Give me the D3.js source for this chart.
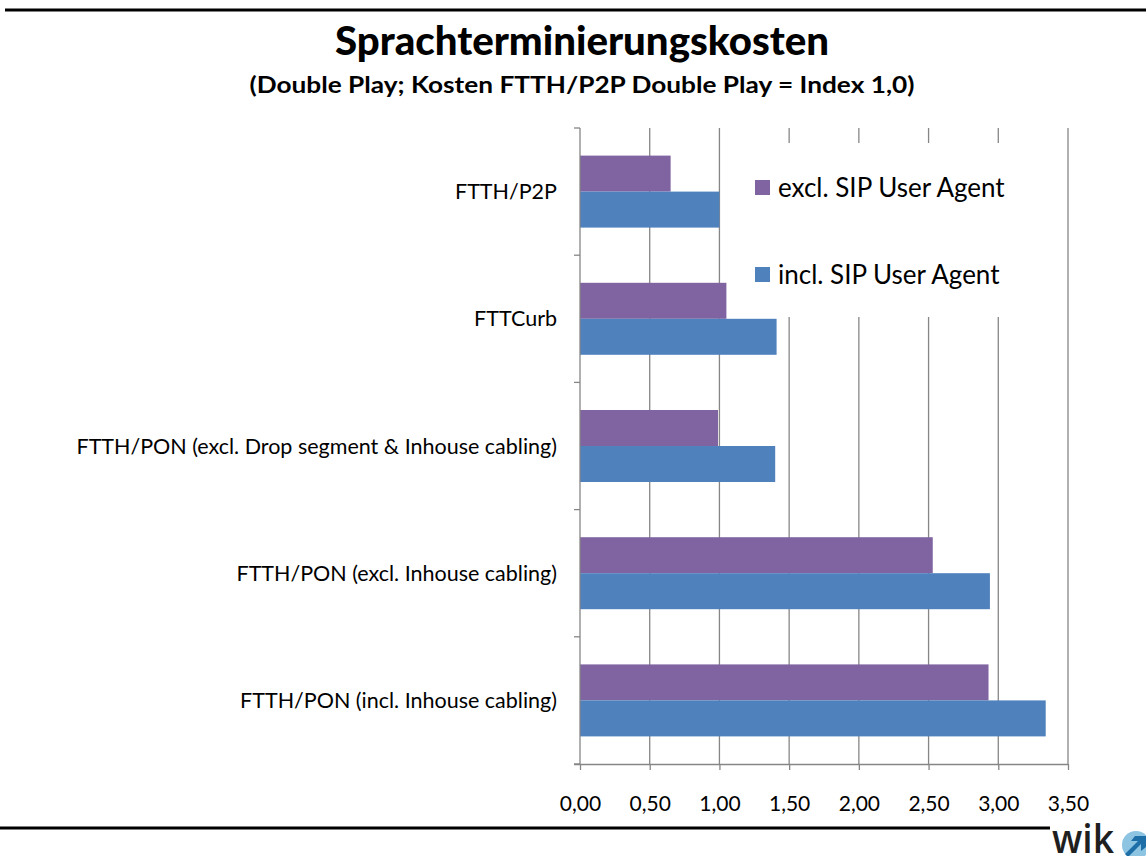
<!DOCTYPE html>
<html>
<head>
<meta charset="utf-8">
<script src="https://cdn.jsdelivr.net/npm/d3@7"></script>
<style>
  body { margin: 0; background: #fff; }
  svg { display: block; font-family: "Lato", "Open Sans", sans-serif; }
</style>
</head>
<body>
<div id="chart"></div>
<script>
// categories top to bottom
var categories = [
    "FTTH/P2P",
    "FTTCurb",
    "FTTH/PON (excl. Drop segment & Inhouse cabling)",
    "FTTH/PON (excl. Inhouse cabling)",
    "FTTH/PON (incl. Inhouse cabling)"
];
var seriesNames = ["excl. SIP User Agent", "incl. SIP User Agent"];
var seriesColors = ["#8064A2", "#4F81BD"];
var exclValues = [0.65, 1.05, 0.99, 2.53, 2.93];
var inclValues = [1.00, 1.41, 1.40, 2.94, 3.34];
var xTicks = [0, 0.5, 1, 1.5, 2, 2.5, 3, 3.5];

var width = 1146, height = 856;
var plot = {left: 580, right: 1068, top: 128, bottom: 764};

var svg = d3.select("#chart").append("svg")
    .attr("width", width)
    .attr("height", height);

// top and bottom rules
svg.append("line").attr("x1", 5).attr("x2", width).attr("y1", 10).attr("y2", 10)
    .attr("stroke", "#000").attr("stroke-width", 3);
svg.append("line").attr("x1", 0).attr("x2", 1050).attr("y1", 828).attr("y2", 828)
    .attr("stroke", "#000").attr("stroke-width", 3);

// titles
svg.append("text").attr("x", 582).attr("y", 55)
    .attr("text-anchor", "middle").attr("font-weight", 900).attr("font-size", 40)
    .attr("textLength", 494).attr("lengthAdjust", "spacingAndGlyphs")
    .text("Sprachterminierungskosten");
svg.append("text").attr("x", 582).attr("y", 93)
    .attr("text-anchor", "middle").attr("font-weight", "bold").attr("font-size", 23)
    .attr("textLength", 665).attr("lengthAdjust", "spacingAndGlyphs")
    .text("(Double Play; Kosten FTTH/P2P Double Play = Index 1,0)");

var x = d3.scaleLinear().domain([0, 3.5]).range([plot.left, plot.right]);
var y = d3.scaleBand().domain(categories).range([plot.top, plot.bottom])
    .paddingInner(0.434).paddingOuter(0.217);
var ySub = d3.scaleBand().domain(seriesNames).range([0, y.bandwidth()]);

var fmt = function(v){ return d3.format(".2f")(v).replace(".", ","); };

// gridlines
svg.append("g").selectAll("line").data(xTicks.slice(1)).enter().append("line")
    .attr("x1", d => x(d)).attr("x2", d => x(d))
    .attr("y1", plot.top).attr("y2", plot.bottom)
    .attr("stroke", "#868686").attr("stroke-width", 1.3);

// legend background hides the gridlines behind it
svg.append("rect").attr("x", 736).attr("y", 143).attr("width", 326).attr("height", 174)
    .attr("fill", "#fff");

// bars
var rows = categories.map(function(c, i){
    return [{cat: c, s: seriesNames[0], v: exclValues[i]},
            {cat: c, s: seriesNames[1], v: inclValues[i]}];
});
var g = svg.append("g");
g.selectAll("g").data(rows).enter().append("g")
    .attr("transform", d => "translate(0," + y(d[0].cat) + ")")
    .selectAll("rect").data(d => d).enter().append("rect")
    .attr("x", x(0))
    .attr("y", d => ySub(d.s))
    .attr("width", d => x(d.v) - x(0))
    .attr("height", ySub.bandwidth())
    .attr("fill", d => seriesColors[seriesNames.indexOf(d.s)]);

// x axis
var xAxis = d3.axisBottom(x).tickValues(xTicks).tickFormat(fmt).tickSize(6).tickPadding(26);
var gx = svg.append("g").attr("transform", "translate(0," + plot.bottom + ")").call(xAxis);
gx.select(".domain").attr("stroke", "#868686").attr("stroke-width", 1.3)
    .attr("d", "M" + (plot.left - 6) + ",0.5H" + plot.right);
gx.selectAll(".tick line").attr("stroke", "#868686").attr("stroke-width", 1.3);
gx.selectAll(".tick text").attr("font-size", 21).attr("fill", "#000")
    .attr("font-family", "Lato, 'Open Sans', sans-serif");

// y axis: tick marks at category boundaries
var yBounds = d3.range(categories.length + 1).map(i => plot.top + i * y.step());
svg.append("line").attr("x1", plot.left).attr("x2", plot.left)
    .attr("y1", plot.top).attr("y2", plot.bottom)
    .attr("stroke", "#868686").attr("stroke-width", 1.3);
svg.append("g").selectAll("line").data(yBounds).enter().append("line")
    .attr("x1", plot.left - 6).attr("x2", plot.left)
    .attr("y1", d => d).attr("y2", d => d)
    .attr("stroke", "#868686").attr("stroke-width", 1.3);

// category labels
svg.append("g").selectAll("text").data(categories).enter().append("text")
    .attr("x", 557)
    .attr("y", d => y(d) + y.bandwidth() / 2)
    .attr("dy", "0.35em")
    .attr("text-anchor", "end")
    .attr("font-size", 21.5)
    .text(d => d);

// legend
var leg = svg.append("g").selectAll("g").data(seriesNames).enter().append("g")
    .attr("transform", (d, i) => "translate(755," + (180 + i * 87) + ")");
leg.append("rect").attr("width", 15).attr("height", 15)
    .attr("fill", (d, i) => seriesColors[i]);
leg.append("text").attr("x", 23).attr("y", 17).attr("font-size", 26).text(d => d);

// wik logo
var logo = svg.append("g").attr("transform", "translate(1052,853)");
logo.append("text").attr("x", 0).attr("y", 0).attr("font-size", 40)
    .attr("font-family", "'Open Sans', sans-serif").attr("font-weight", 600)
    .attr("textLength", 62).attr("lengthAdjust", "spacingAndGlyphs")
    .attr("fill", "#1f1f1f").text("wik");
logo.append("circle").attr("cx", 84).attr("cy", -8).attr("r", 14).attr("fill", "#8cc4e2");
logo.append("path").attr("d", "M73,1 l13,-13 h-7 l4,-5 h11 v11 l-5,4 v-7 l-13,13 z").attr("fill", "#1e6fa8");
</script>
</body>
</html>
